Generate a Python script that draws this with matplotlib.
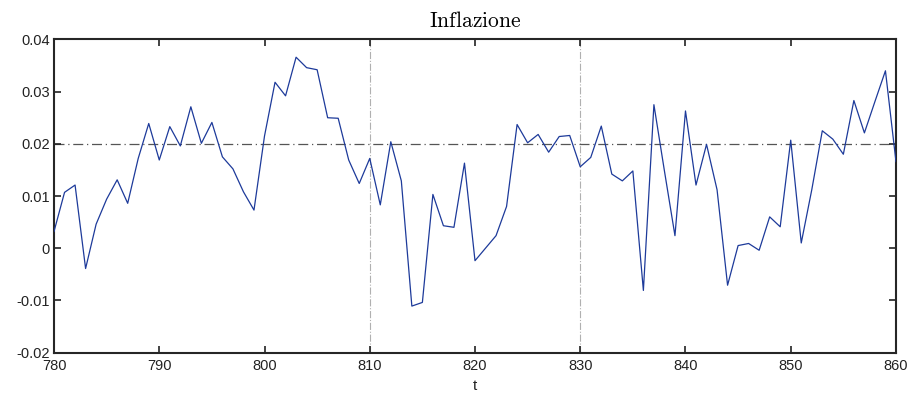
import matplotlib
matplotlib.use("Agg")
import matplotlib.pyplot as plt
import numpy as np

t = list(range(780, 861))
inflazione = [
    0.0032, 0.0107, 0.0121, -0.0039, 0.0046, 0.0094, 0.0131, 0.0086, 0.0172, 0.0239,
    0.0169, 0.0233, 0.0196, 0.0271, 0.0201, 0.0241, 0.0175, 0.0152, 0.0108, 0.0073,
    0.0215, 0.0318, 0.0292, 0.0366, 0.0346, 0.0342, 0.0250, 0.0249, 0.0169, 0.0124,
    0.0172, 0.0083, 0.0204, 0.0129, -0.0111, -0.0104, 0.0103, 0.0043, 0.0040, 0.0163,
    -0.0024, 0.0000, 0.0024, 0.0080, 0.0237, 0.0202, 0.0218, 0.0184, 0.0214, 0.0216,
    0.0156, 0.0174, 0.0234, 0.0142, 0.0129, 0.0148, -0.0081, 0.0275, 0.0148, 0.0024,
    0.0263, 0.0121, 0.0199, 0.0112, -0.0071, 0.0005, 0.0009, -0.0004, 0.0060, 0.0041,
    0.0207, 0.0010, 0.0112, 0.0225, 0.0209, 0.0180, 0.0283, 0.0221, 0.0281, 0.0340,
    0.0166,
]
target = 0.02
vlines = [810, 830]
xticks = list(range(780, 861, 10))
yticks = [-0.02, -0.01, 0, 0.01, 0.02, 0.03, 0.04]
ytick_labels = ["-0.02", "-0.01", "0", "0.01", "0.02", "0.03", "0.04"]

plt.rcParams['font.family'] = ['Liberation Sans', 'DejaVu Sans']
plt.rcParams['mathtext.fontset'] = 'cm'

fig = plt.figure(figsize=(9.11, 3.96), dpi=100)
ax = fig.add_axes([0.0593, 0.1098, 0.9242, 0.7905])

for v in vlines:
    ax.axvline(v, color='#b0b0b0', linestyle='-.', linewidth=0.8, zorder=1)
ax.axhline(target, color='#555555', linestyle=(0, (8, 3, 1, 3)), linewidth=0.9, zorder=1)
ax.plot(t, inflazione, color='#1d3a9a', linewidth=0.9, zorder=3)

ax.set_xlim(780, 860)
ax.set_ylim(-0.02, 0.04)
ax.set_xticks(xticks)
ax.set_xticklabels([str(x) for x in xticks], fontsize=10.5)
ax.set_yticks(yticks)
ax.set_yticklabels(ytick_labels, fontsize=10.5)
ax.tick_params(direction='in', length=5, width=1.2, top=True, right=True,
               colors='#222222', labelcolor='#222222')
ax.tick_params(axis='x', pad=5)
ax.tick_params(axis='y', pad=3)
for s in ax.spines.values():
    s.set_linewidth(1.5)
    s.set_color('#262626')

ax.set_xlabel('t', fontsize=11, color='#222222', labelpad=4)
ax.set_title(r'$\mathrm{Inflazione}$', fontsize=15.5, pad=9)

fig.savefig('out.png', dpi=100)
